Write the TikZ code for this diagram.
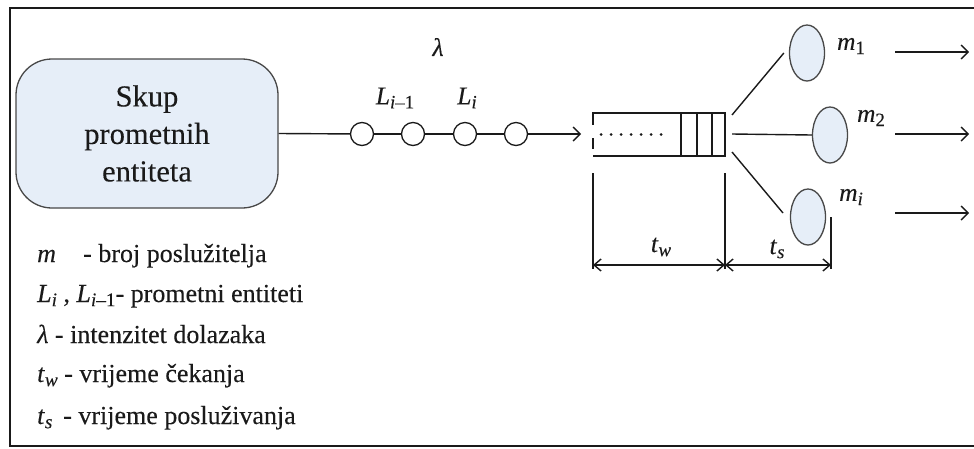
\documentclass[tikz,border=0pt]{standalone}
\usepackage{fontspec}
\setmainfont{Liberation Serif}[FakeBold=0.2]
\usetikzlibrary{shapes.geometric,arrows.meta}
\definecolor{boxblue}{HTML}{E6EEF8}
\definecolor{ink}{HTML}{1A1A1A}
\newcommand\lowsub[1]{\raisebox{-0.35ex}{\fontsize{0.74em}{1em}\selectfont #1}}
\begin{document}
\begin{tikzpicture}[x=1pt,y=-1pt,
  ln/.style={line width=1.4pt, draw=ink},
  arr/.style={ln, -{Straight Barb[length=7pt,width=14pt,line width=1.4pt]}},
  dim/.style={ln, {Straight Barb[length=7pt,width=12pt,line width=1.4pt]}-{Straight Barb[length=7pt,width=12pt,line width=1.4pt]}},
  ent/.style={circle, draw=ink, line width=1.3pt, minimum size=23pt, inner sep=0pt},
  srv/.style={ellipse, draw=ink!80, fill=boxblue, line width=1.3pt, minimum width=35pt, minimum height=56pt, inner sep=0pt},
  lbl/.style={font=\fontsize{25.5}{30}\selectfont, inner sep=0pt, text=ink},
  leg/.style={font=\fontsize{26}{30}\selectfont, inner sep=0pt, anchor=base west, text=ink},
  bigbox/.style={draw=ink!80, fill=boxblue, line width=1.3pt, rounded corners=36pt,
    minimum width=262pt, minimum height=149pt, align=center, inner sep=0pt,
    font=\fontsize{30.5}{37.5}\selectfont, text=ink}]
\useasboundingbox (0,0) rectangle (974,448);
% frame
\draw[line width=2.8pt, draw=ink] (980,8) -- (10,8) -- (10,446) -- (980,446);

% source box
\node[bigbox] (src) at (147,133.5) {Skup\\prometnih\\entiteta};

% entities
\node[ent] (c1) at (362,134) {};
\node[ent] (c2) at (413,134) {};
\node[ent] (c3) at (465,134) {};
\node[ent] (c4) at (516,134) {};
\coordinate (qin) at (581,134);
\draw[ln] (src.east) -- (c1);
\draw[ln] (c1) -- (c2);
\draw[ln] (c2) -- (c3);
\draw[ln] (c3) -- (c4);
\draw[arr] (c4) -- (qin);

\node[lbl] (lam) at (438,47) {\textit{λ}};
\node[lbl] (lim1) at (395,98) {\textit{L}\lowsub{\textit{i}–1}};
\node[lbl] (li) at (467,98) {\textit{L}\lowsub{\textit{i}}};

% queue
\draw[ln] (593,113) -- (725,113) -- (725,156) -- (593,156);
\draw[ln] (681,113) -- (681,156);
\draw[ln] (697,113) -- (697,156);
\draw[ln] (712,113) -- (712,156);
\draw[line width=2.8pt, draw=ink] (593,112) -- (593,125);
\draw[line width=2.8pt, draw=ink] (593,138) -- (593,149);
\draw[line width=3pt, draw=ink, line cap=round, dash pattern=on 0.1pt off 9.9pt] (601,134) -- (662,134);

% servers
\node[srv] (s1) at (807,53) {};
\node[srv] (s2) at (830,135) {};
\node[srv] (s3) at (808,217) {};
\coordinate (q1) at (732,115);
\coordinate (q2) at (732,134);
\coordinate (q3) at (732,152);
\draw[ln] (q1) -- ([xshift=-5pt]s1.west);
\draw[ln] (q2) -- (s2.west);
\draw[ln] (q3) -- (783,213);

\node[lbl] (m1) at (851,46) {\textit{m}\lowsub{1}};
\node[lbl] (m2) at (871,118) {\textit{m}\lowsub{2}};
\node[lbl] (mi) at (851,197) {\textit{m}\lowsub{\textit{i}}};

% outgoing arrows
\coordinate (o1a) at (895,52);  \coordinate (o1b) at (969,52);
\coordinate (o2a) at (895,134); \coordinate (o2b) at (969,134);
\coordinate (o3a) at (895,213); \coordinate (o3b) at (969,213);
\draw[arr] (o1a) -- (o1b);
\draw[arr] (o2a) -- (o2b);
\draw[arr] (o3a) -- (o3b);

% dimensions
\coordinate (d0) at (593,265);
\coordinate (d1) at (725,265);
\coordinate (d2) at (831,265);
\draw[ln] (593,173) -- (593,269);
\draw[ln] (725,173) -- (725,269);
\draw[ln] (831,217) -- (831,269);
\draw[dim] (d0) -- (d1);
\draw[dim] (d1) -- (d2);
\node[lbl] (tw) at (661,247) {\textit{t}\lowsub{\textit{w}}};
\node[lbl] (ts) at (777,249) {\textit{t}\lowsub{\textit{s}}};

% legend
\node[leg] (g1a) at (37,262) {\textit{m}};
\node[leg] (g1b) at (83,262) {- broj poslužitelja};
\node[leg] (g2) at (37,302) {\textit{L}\lowsub{\textit{i}} , \textit{L}\lowsub{\textit{i}–1}- prometni entiteti};
\node[leg] (g3) at (37,343) {\textit{λ} - intenzitet dolazaka};
\node[leg] (g4) at (37,382) {\textit{t}\lowsub{\textit{w}} - vrijeme čekanja};
\node[leg] (g5) at (37,424) {\textit{t}\lowsub{\textit{s}}\, - vrijeme posluživanja};
\end{tikzpicture}
\end{document}
